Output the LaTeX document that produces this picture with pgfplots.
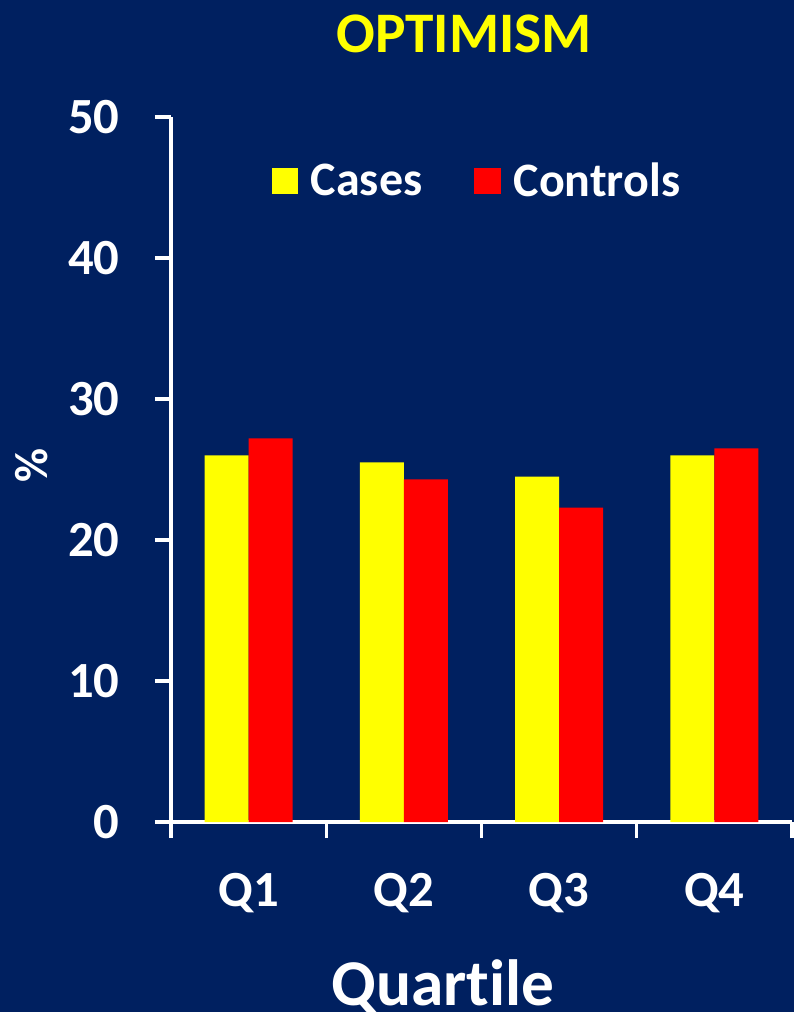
\documentclass[border=0pt]{standalone}
\usepackage{pgfplots}
\pgfplotsset{compat=1.18}
\usepackage{fontspec}
\setmainfont{Carlito}[Ligatures=NoCommon]
\definecolor{bg}{RGB}{0,32,96}
\definecolor{cy}{RGB}{255,255,0}
\definecolor{cr}{RGB}{255,0,0}
\begin{document}
\begin{tikzpicture}[x=1pt,y=1pt]
\fill[bg] (-128.25,-142.5) rectangle (467.25,616.5);
\begin{axis}[
  at={(0,0)}, anchor=south west,
  scale only axis, width=465.75pt, height=528.75pt,
  xmin=-0.5, xmax=3.5, ymin=0, ymax=50,
  axis lines=left,
  axis line style={white, line width=2.5pt, -},
  ybar=0pt, bar width=0.2834,
  ytick={0,10,20,30,40,50},
  xtick={0,1,2,3}, xticklabels={Q1,Q2,Q3,Q4},
  minor xtick={-0.5,0.5,1.5,2.5,3.5},
  tick align=outside,
  major tick length=12pt, minor tick length=12pt,
  major x tick style={draw=none},
  minor x tick style={white, line width=2.5pt},
  ytick style={white, line width=2.5pt},
  tick label style={text=white, font=\bfseries\fontsize{38}{38}\selectfont},
  /pgf/number format/assume math mode=true,
  xticklabel style={yshift=-23pt},
  yticklabel style={xshift=-23pt},
  title=OPTIMISM,
  title style={at={(axis description cs:0.472,1.106)}, anchor=center, text=cy, font=\bfseries\fontsize{43}{43}\selectfont},
  xlabel=Quartile,
  xlabel style={at={(axis description cs:0.438,-0.234)}, anchor=center, text=white, font=\bfseries\fontsize{49}{49}\selectfont},
  ylabel=\%,
  ylabel style={at={(axis description cs:-0.224,0.506)}, anchor=center, text=white, font=\bfseries\fontsize{35}{35}\selectfont},
  legend columns=2,
  legend style={at={(axis description cs:0.155,0.909)}, anchor=west, draw=none, fill=none, text=white, font=\bfseries\fontsize{36}{36}\selectfont, /tikz/every odd column/.append style={column sep=7.5pt}, /tikz/every even column/.append style={column sep=37pt}},
  legend image code/.code={\fill[#1] (0pt,-10pt) rectangle (20pt,10pt);},
]
\addplot[fill=cy, draw=none] coordinates {(0,26.0) (1,25.5) (2,24.5) (3,26.0)};
\addplot[fill=cr, draw=none] coordinates {(0,27.2) (1,24.3) (2,22.3) (3,26.5)};
\legend{Cases, Controls}
\end{axis}
\pgfresetboundingbox
\path[use as bounding box] (-128.25,-142.5) rectangle (467.25,616.5);
\end{tikzpicture}
\end{document}
